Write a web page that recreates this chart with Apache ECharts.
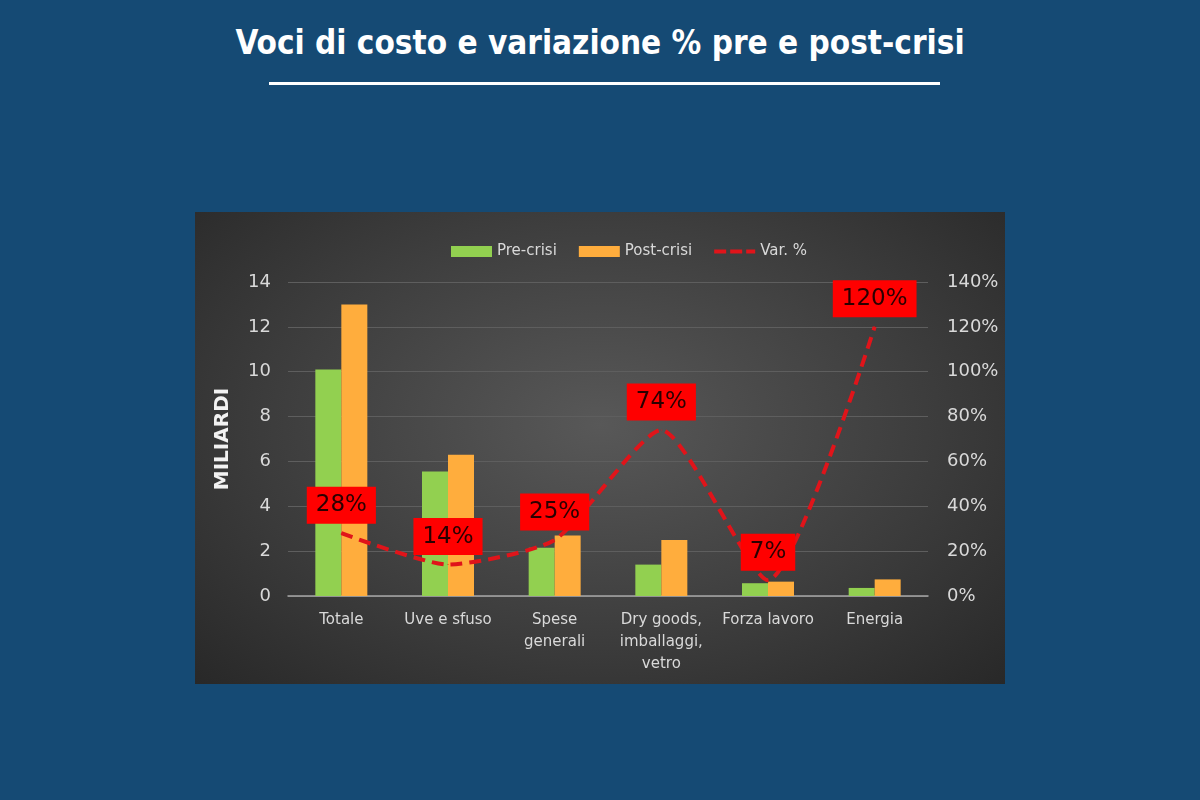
<!DOCTYPE html>
<html>
<head>
<meta charset="utf-8">
<script src="https://cdn.jsdelivr.net/npm/echarts@6/dist/echarts.min.js"></script>
<style>
  html, body { margin: 0; padding: 0; }
  body { width: 1200px; height: 800px; background: #154a74; position: relative; overflow: hidden; }
  #title {
    position: absolute; left: 0; top: 23px; width: 1200px; text-align: center;
    color: #ffffff; font: bold 33px "DejaVu Sans Condensed", sans-serif;
  }
  #rule { position: absolute; left: 269px; top: 82px; width: 671px; height: 3px; background: #ffffff; }
  #panel {
    position: absolute; left: 195px; top: 212px; width: 810px; height: 472px;
    background: radial-gradient(ellipse at 50% 45%, #585858 0%, #3e3e3e 55%, #282828 100%);
  }
  #chart { position: absolute; left: 0; top: 0; width: 1200px; height: 800px; }
</style>
</head>
<body>
<div id="title">Voci di costo e variazione % pre e post-crisi</div>
<div id="rule"></div>
<div id="panel"></div>
<div id="chart"></div>
<script>
  // values
  var categories = ['Totale', 'Uve e sfuso', 'Spese\ngenerali', 'Dry goods,\nimballaggi,\nvetro', 'Forza lavoro', 'Energia'];
  var preCrisi = [10.1, 5.55, 2.15, 1.4, 0.57, 0.36];
  var postCrisi = [13.0, 6.3, 2.7, 2.5, 0.64, 0.74];
  var varPct = [28, 14, 25, 74, 7, 120];

  var fontFamily = '"DejaVu Sans", sans-serif';
  var textColor = '#d9d9d9';
  var lineRed = '#e0141a';

  var chart = echarts.init(document.getElementById('chart'));
  chart.setOption({
    backgroundColor: 'transparent',
    textStyle: { fontFamily: fontFamily },
    legend: {
      left: 446, top: 239,
      itemWidth: 41, itemHeight: 11, itemGap: 22,
      textStyle: { color: textColor, fontSize: 15, fontFamily: fontFamily },
      data: [
        { name: 'Pre-crisi', icon: 'rect' },
        { name: 'Post-crisi', icon: 'rect' },
        { name: 'Var. %', icon: 'path://M0,0M41,11M0,3.5h12v4h-12zM16,3.5h12v4h-12zM32,3.5h9v4h-9z', itemStyle: { color: lineRed } }
      ]
    },
    grid: { left: 288, right: 272, top: 282, bottom: 204 },
    xAxis: {
      type: 'category',
      data: categories,
      axisLine: { lineStyle: { color: '#a6a6a6', width: 1.5 } },
      axisTick: { show: false },
      axisLabel: { color: textColor, fontSize: 15, lineHeight: 22, margin: 13, interval: 0 }
    },
    yAxis: [{
      type: 'value', min: 0, max: 14, interval: 2,
      name: 'MILIARDI', nameLocation: 'middle', nameRotate: 90, nameGap: 55,
      nameTextStyle: { color: '#f2f2f2', fontSize: 20, fontWeight: 'bold' },
      axisLabel: { color: textColor, fontSize: 18, margin: 17 },
      axisLine: { show: false }, axisTick: { show: false },
      splitLine: { lineStyle: { color: '#5e5e5e', width: 1 } }
    }, {
      type: 'value', min: 0, max: 140, interval: 20,
      axisLabel: { color: textColor, fontSize: 18, margin: 19, formatter: '{value}%' },
      axisLine: { show: false }, axisTick: { show: false },
      splitLine: { show: false }
    }],
    series: [{
      name: 'Pre-crisi', type: 'bar', data: preCrisi,
      barWidth: 26, barGap: '0%',
      itemStyle: { color: '#92d050' }
    }, {
      name: 'Post-crisi', type: 'bar', data: postCrisi,
      barWidth: 26,
      itemStyle: { color: '#ffad3d' }
    }, {
      name: 'Var. %', type: 'line', yAxisIndex: 1, data: varPct,
      smooth: 0.2, symbol: 'circle', symbolSize: 1, showSymbol: true,
      lineStyle: { color: lineRed, width: 4, type: [12, 7] },
      itemStyle: { color: lineRed },
      label: {
        show: true, position: 'top', distance: 9,
        formatter: '{c}%',
        backgroundColor: '#ff0000', color: '#2a0000',
        fontSize: 23, padding: [5, 9], lineHeight: 27
      },
      z: 5
    }]
  });
</script>
</body>
</html>
